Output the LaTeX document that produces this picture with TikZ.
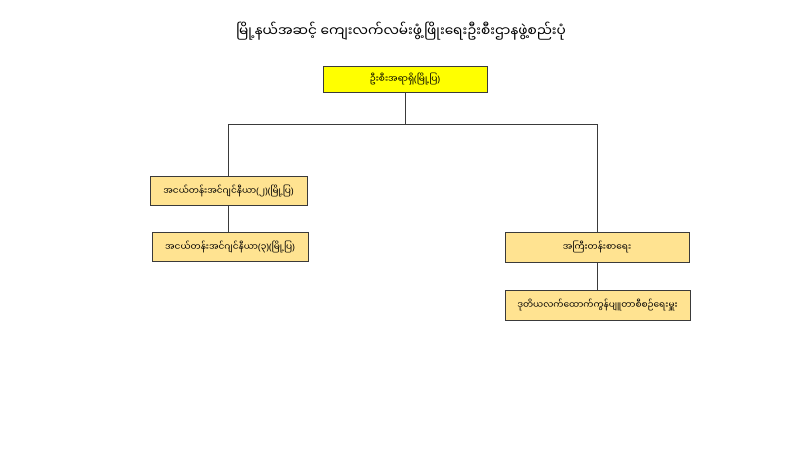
\documentclass[tikz,border=0pt]{standalone}
\usepackage{fontspec}
\newfontfamily\mya[Script=Myanmar]{Noto Sans Myanmar UI}
\newfontfamily\latf{Noto Sans}
\newcommand\lpar{{\latf(}}
\newcommand\rpar{{\latf)}}
\definecolor{boxgold}{HTML}{FFE391}
\definecolor{boxyel}{HTML}{FFFF00}
\definecolor{edge}{HTML}{3A3A3A}
\tikzset{
  orgbox/.style={draw=edge, line width=0.9pt, fill=boxgold, inner sep=0pt, font=\mya\fontsize{9}{10}\selectfont},
  link/.style={draw=edge, line width=0.9pt}
}
\begin{document}
\begin{tikzpicture}[x=1pt,y=-1pt]
\useasboundingbox (0,0) rectangle (800,450);
\node (title) at (401,31) {\mya\fontsize{13.7}{16}\selectfont မြို့နယ်အဆင့် ကျေးလက်လမ်းဖွံ့ဖြိုးရေးဦးစီးဌာနဖွဲ့စည်းပုံ};
\node[orgbox, fill=boxyel, minimum width=164pt, minimum height=26pt] (top) at (405,79) {ဦးစီးအရာရှိ\lpar မြို့ပြ\rpar};
\node[orgbox, minimum width=157pt, minimum height=29pt] (l1) at (228.5,190.5) {အငယ်တန်းအင်ဂျင်နီယာ\lpar ၂\rpar\lpar မြို့ပြ\rpar};
\node[orgbox, minimum width=156pt, minimum height=29pt] (l2) at (230,247) {အငယ်တန်းအင်ဂျင်နီယာ\lpar ၃\rpar\lpar မြို့ပြ\rpar};
\node[orgbox, minimum width=184pt, minimum height=30pt] (r1) at (597,247) {အကြီးတန်းစာရေး};
\node[orgbox, minimum width=185pt, minimum height=30pt] (r2) at (597.5,305) {ဒုတိယလက်ထောက်ကွန်ပျူတာစီစဉ်ရေးမှူး};
\coordinate (bus) at (0,124);
\draw[link] (top.south) -- (top.south |- bus);
\draw[link] (l1.north) -- (l1.north |- bus) -- (r1.north |- bus) -- (r1.north);
\draw[link] (l1.south) -- (l1.south |- l2.north);
\draw[link] (r1.south) -- (r2.north -| r1.south);
\end{tikzpicture}
\end{document}
